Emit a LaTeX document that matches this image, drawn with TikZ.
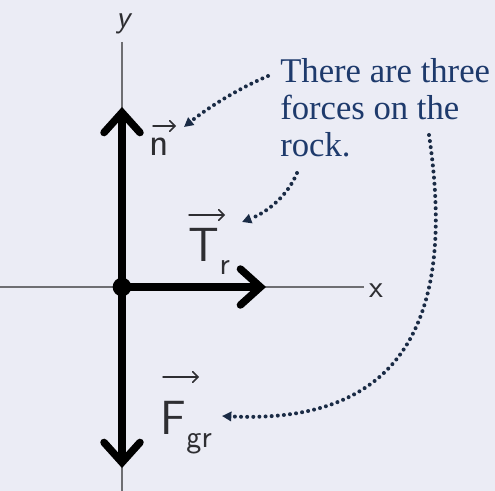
\documentclass[tikz,border=0pt]{standalone}
\usepackage{fontspec}
\setmainfont{Liberation Serif}
\usetikzlibrary{arrows.meta}
\definecolor{bgc}{HTML}{EBECF5}
\definecolor{txtc}{HTML}{1E3A6C}
\definecolor{dotc}{HTML}{1A2B45}
\definecolor{axc}{HTML}{6E6E72}
\definecolor{handc}{HTML}{2E2E32}
\tikzset{
  force/.style={line width=5.6pt, line cap=round, -{Straight Barb[length=15pt,width=27pt,line cap=round]}},
  axis/.style={draw=axc, line width=1.1pt},
  pointer/.style={draw=dotc, line width=3pt, line cap=round, dash pattern=on 0pt off 4.6pt, -{Triangle[length=7pt,width=7pt]}},
  hand/.style={text=handc, inner sep=0pt, anchor=base west},
  vecarrow/.style={draw=handc, line width=1.1pt, line cap=round, -{Straight Barb[length=4pt,width=8pt,line cap=round]}},
  bigletter/.style={hand, font=\sffamily\fontsize{36}{36}\selectfont},
  subletter/.style={hand, font=\sffamily\fontsize{24}{24}\selectfont},
}
\begin{document}
\begin{tikzpicture}[x=0.75pt,y=-0.75pt]
\useasboundingbox (0,0) rectangle (495,491);
\fill[bgc] (0,0) rectangle (495,491);
% axes
\coordinate (O) at (122,287);
\coordinate (ytop) at (122,42);
\coordinate (ybot) at (122,491);
\coordinate (xleft) at (0,287);
\coordinate (xright) at (364,287);
\draw[axis] (ytop) -- (ybot);
\draw[axis] (xleft) -- (xright);
\node[hand, anchor=center, font=\sffamily\fontsize{24}{24}\selectfont\itshape] (ylab) at (123,24) {y};
\node[hand, anchor=center, font=\sffamily\fontsize{24}{24}\selectfont] (xlab) at (376,291) {x};
% forces
\coordinate (ntip) at (122,107);
\coordinate (Ttip) at (266,287);
\coordinate (Ftip) at (122,468);
\draw[force] (O) -- (ntip);
\draw[force] (O) -- (Ttip);
\draw[force] (O) -- (Ftip);
\fill (O) circle[radius=7pt];
% label n
\node[hand, font=\sffamily\fontsize{30}{30}\selectfont] (nlab) at (149,156) {n};
\coordinate (na1) at (153,126);
\coordinate (na2) at (176,126);
\draw[vecarrow] (na1) -- (na2);
% label T_r
\node[bigletter] (Tlab) at (188,262) {T};
\node[subletter] (Tsub) at ([yshift=-9pt]Tlab.base east) {r};
\coordinate (ta1) at (189,215);
\coordinate (ta2) at (225,215);
\draw[vecarrow] (ta1) -- (ta2);
% label F_gr
\node[bigletter] (Flab) at (160,434) {F};
\node[subletter] (Fsub) at ([yshift=-10pt]Flab.base east) {gr};
\coordinate (fa1) at (163,377);
\coordinate (fa2) at (199,377);
\draw[vecarrow] (fa1) -- (fa2);
% text
\node[anchor=north west, inner sep=0pt, text=txtc, align=left,
      font=\fontsize{26}{27.8}\selectfont] (note) at (280,58)
  {There are three\\forces on the\\rock.};
% pointers
\coordinate (p1) at (268,76);
\coordinate (p2) at (297,173);
\coordinate (p3) at (429,135);
\draw[pointer] (p1) .. controls (235,90) and (205,110) .. (184,127);
\draw[pointer] (p2) .. controls (288,195) and (268,212) .. (242,222);
\draw[pointer] (p3) .. controls (455,310) and (410,425) .. (222,416);
\end{tikzpicture}
\end{document}
